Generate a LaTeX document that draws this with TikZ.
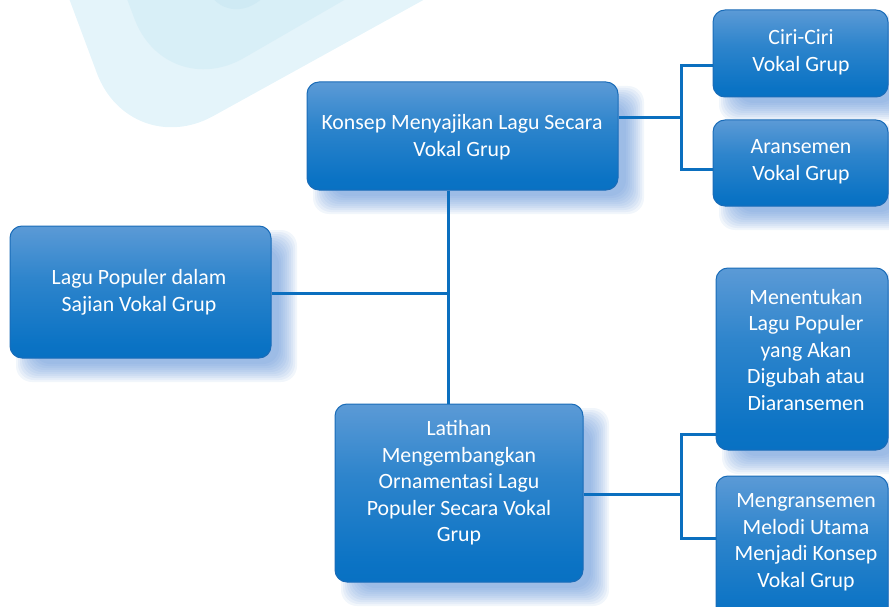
\documentclass[tikz,border=0pt]{standalone}
\usepackage{fontspec}
\setmainfont{Carlito}
\definecolor{bgA}{HTML}{E4F4FA}
\definecolor{bgB}{HTML}{D8EFF7}
\definecolor{bgC}{HTML}{CFEAF4}
\definecolor{boxborder}{HTML}{1A6CB8}
\definecolor{connc}{HTML}{0B6FBF}
\definecolor{shadowc}{HTML}{4F86D2}
\pgfdeclareverticalshading{boxshade}{100bp}{rgb(0bp)=(0.01,0.41,0.73); rgb(30bp)=(0.04,0.45,0.77); rgb(55bp)=(0.18,0.52,0.80); rgb(100bp)=(0.58,0.71,0.89)}
\tikzset{
  dbox/.style={rectangle, rounded corners=12pt, shading=boxshade, draw=boxborder, line width=1pt, inner sep=0pt},
  dtext/.style={text=white, align=center, font=\fontsize{21.8}{26.5}\selectfont, inner sep=0pt},
  conn/.style={draw=connc, line width=3pt},
}
\newcommand\shd[4]{%
  \foreach \k in {0,...,9}{%
    \fill[shadowc, opacity=0.08, rounded corners=16pt]
      ({#1+16-10+2*\k},{#2+14-10+2*\k}) rectangle ({#3+16+10-2*\k},{#4+14+10-2*\k});
  }}
\begin{document}
\begin{tikzpicture}[x=1pt,y=-1pt]
\useasboundingbox (0,0) rectangle (889,607);
\clip (0,0) rectangle (889,607);
% background decoration
\fill[bgA, rounded corners=95pt] (10,-160) -- (130,162) -- (561,-76) -- cycle;
\fill[bgB, rounded corners=90pt] (60,-180) -- (166,103) -- (500,-90) -- cycle;
\fill[bgC, rounded corners=45pt] (160,-130) -- (222,28) -- (370,-80) -- cycle;
% shadows
\shd{307}{82}{618}{190}
\shd{713}{10}{888}{97}
\shd{713}{120}{888}{206}
\shd{10}{226}{271}{358}
\shd{335}{404}{583}{582}
\shd{716}{268}{888}{450}
\shd{716}{476}{888}{625}
% boxes
\node[dbox, minimum width=311pt, minimum height=108pt] (konsep) at (462.5,136) {};
\node[dbox, minimum width=175pt, minimum height=87pt] (ciri) at (800.5,53.5) {};
\node[dbox, minimum width=175pt, minimum height=86pt] (aran) at (800.5,163) {};
\node[dbox, minimum width=261pt, minimum height=132pt] (lagu) at (140.5,292) {};
\node[dbox, minimum width=248pt, minimum height=178pt] (latihan) at (459,493) {};
\node[dbox, minimum width=172pt, minimum height=182pt] (menentukan) at (802,359) {};
\node[dbox, minimum width=172pt, minimum height=149pt] (mengran) at (802,550.5) {};
% texts
\node[dtext] (tkonsep) at (462,137) {Konsep Menyajikan Lagu Secara\\Vokal Grup};
\node[dtext] (tciri) at (801,52.5) {Ciri-Ciri\\Vokal Grup};
\node[dtext] (taran) at (801,162) {Aransemen\\Vokal Grup};
\node[dtext] (tlagu) at (139,292.5) {Lagu Populer dalam\\Sajian Vokal Grup};
\node[dtext] (tlatihan) at (459,483) {Latihan\\Mengembangkan\\Ornamentasi Lagu\\Populer Secara Vokal\\Grup};
\node[dtext] (tmenentukan) at (806,350) {Menentukan\\Lagu Populer\\yang Akan\\Digubah atau\\Diaransemen};
\node[dtext] (tmengran) at (806,542.5) {Mengransemen\\Melodi Utama\\Menjadi Konsep\\Vokal Grup};
% junction coordinates
\coordinate (jtop) at (681,118);
\coordinate (jmid) at (448,293);
\coordinate (jbot) at (681,494);
% connectors
\draw[conn] (konsep.east |- jtop) -- (jtop);
\draw[conn] (ciri.west |- 0,66) -| (jtop) |- (aran.west |- 0,170);
\draw[conn] (konsep.south -| jmid) -- (latihan.north -| jmid);
\draw[conn] (lagu.east |- jmid) -- (jmid);
\draw[conn] (latihan.east |- jbot) -- (jbot);
\draw[conn] (menentukan.west |- 0,434) -| (jbot) |- (mengran.west |- 0,538);
\end{tikzpicture}
\end{document}
